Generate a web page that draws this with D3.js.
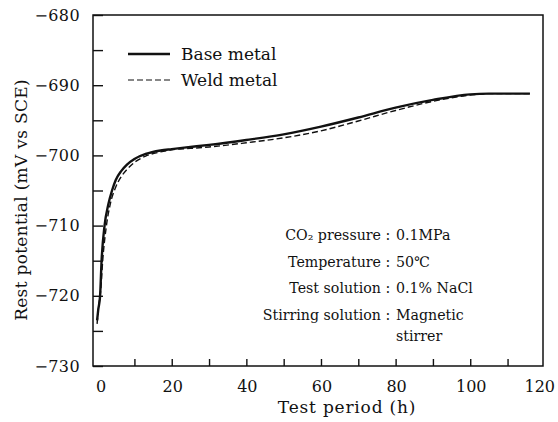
<!DOCTYPE html>
<html><head><meta charset="utf-8">
<script src="https://cdn.jsdelivr.net/npm/d3@7"></script>
<style>body{margin:0;background:#fff}svg{display:block}</style>
</head><body>
<script>
const baseT = [0, 0.3, 0.8, 1.2, 2, 3, 4, 5, 6.5, 8, 10, 13, 17, 20, 25, 30, 40, 50, 60, 70, 80, 90, 100, 105, 110, 116];
const baseV = [-723.5, -722, -720, -715, -710, -707, -705, -703.5, -702.2, -701.3, -700.5, -699.8, -699.3, -699.1, -698.8, -698.5, -697.8, -697, -695.9, -694.6, -693.2, -692.1, -691.3, -691.2, -691.2, -691.2];
const weldT = [0, 0.3, 1, 1.5, 2.5, 3.5, 5, 6.5, 8, 10, 13, 17, 20, 25, 30, 40, 50, 60, 70, 80, 90, 100, 105, 110, 116];
const weldV = [-724, -722, -719, -715, -710, -707, -704.5, -703, -702, -701, -700.1, -699.5, -699.2, -699, -698.8, -698.2, -697.5, -696.5, -695.1, -693.6, -692.3, -691.4, -691.2, -691.2, -691.2];
const xTicks = [0, 20, 40, 60, 80, 100, 120];
const xMinor = [10, 30, 50, 70, 90, 110];
const yTicks = [-680, -690, -700, -710, -720, -730];
const yMinor = [-685, -695, -705, -715, -725];
const legendLabels = ["Base metal", "Weld metal"];
const condLabels = ["CO\u2082 pressure", "Temperature", "Test solution", "Stirring solution"];
const condValues = ["0.1MPa", "50\u2103", "0.1% NaCl", "Magnetic"];

const FONT = "DejaVu Serif";
const W = 558, H = 422;
const L = 93, T = 15, R = 543, B = 366;
const svg = d3.select("body").append("svg").attr("width", W).attr("height", H)
  .attr("font-family", FONT).attr("fill", "#111");
const x = d3.scaleLinear().domain([-1.1, 119.5]).range([L, R]);
const y = d3.scaleLinear().domain([-730, -680]).range([B, T]);

// frame
svg.append("rect").attr("x", L).attr("y", T).attr("width", R - L).attr("height", B - T)
  .attr("fill", "none").attr("stroke", "#111").attr("stroke-width", 1.5);

// y ticks (inward)
const yAx = d3.axisRight(y).tickValues(yTicks.concat(yMinor)).tickSize(10).tickFormat("");
const gy = svg.append("g").attr("transform", `translate(${L},0)`).call(yAx);
gy.select(".domain").remove();
gy.selectAll("line").attr("stroke", "#111").attr("stroke-width", 1.4);
svg.append("g").selectAll("text").data(yTicks).join("text")
  .attr("x", 80).attr("y", d => y(d)).attr("dy", "0.35em").attr("text-anchor", "end")
  .attr("font-family", FONT).attr("font-size", 16).attr("letter-spacing", 0.4)
  .text(d => "\u2212" + Math.abs(d));

// x ticks (inward)
const xAx = d3.axisTop(x).tickValues(xTicks.slice(1, 6).concat(xMinor)).tickSize(7).tickFormat("");
const gx = svg.append("g").attr("transform", `translate(0,${B})`).call(xAx);
gx.select(".domain").remove();
gx.selectAll("line").attr("stroke", "#111").attr("stroke-width", 1.4);
svg.append("g").selectAll("text").data(xTicks).join("text")
  .attr("x", d => d === 120 ? 555 : x(d) + (d === 0 ? 4 : 1)).attr("y", 392)
  .attr("text-anchor", d => d === 120 ? "end" : "middle")
  .attr("font-family", FONT).attr("font-size", 16)
  .text(d => d);

// axis titles
svg.append("text").attr("x", 347).attr("y", 413).attr("text-anchor", "middle")
  .attr("font-family", FONT).attr("font-size", 17).attr("letter-spacing", 0.8).text("Test period (h)");
svg.append("text").attr("transform", "translate(27,200) rotate(-90)").attr("text-anchor", "middle")
  .attr("font-family", FONT).attr("font-size", 17).attr("letter-spacing", 0.3).text("Rest potential (mV vs SCE)");

// lines
const line = d3.line().x(d => x(d[0])).y(d => y(d[1])).curve(d3.curveMonotoneX);
const weld = weldT.map((t, i) => [t, weldV[i]]);
const base = baseT.map((t, i) => [t, baseV[i]]);
svg.append("path").attr("d", line(weld)).attr("fill", "none").attr("stroke", "#111")
  .attr("stroke-width", 1.4).attr("stroke-dasharray", "6,3");
svg.append("path").attr("d", line(base)).attr("fill", "none").attr("stroke", "#111")
  .attr("stroke-width", 2.4);

// legend
const lg = svg.append("g");
lg.append("line").attr("x1", 128).attr("x2", 170).attr("y1", 54).attr("y2", 54).attr("stroke", "#111").attr("stroke-width", 2.6);
lg.append("line").attr("x1", 128).attr("x2", 170).attr("y1", 80).attr("y2", 80).attr("stroke", "#111").attr("stroke-width", 1.2).attr("stroke-dasharray", "6,3");
lg.selectAll("text").data(legendLabels).join("text")
  .attr("x", 181).attr("y", (d, i) => 60 + i * 26)
  .attr("font-family", FONT).attr("font-size", 17).text(d => d);

// conditions
const cg = svg.append("g").attr("font-family", FONT).attr("font-size", 14.2);
cg.selectAll("text.k").data(condLabels).join("text").attr("class", "k")
  .attr("x", 381).attr("y", (d, i) => 240 + i * 26.5).attr("text-anchor", "end")
  .text(d => d);
cg.selectAll("text.c").data(condLabels).join("text").attr("class", "c")
  .attr("x", 388).attr("y", (d, i) => 240 + i * 26.5).attr("text-anchor", "middle")
  .text(":");
cg.selectAll("text.v").data(condValues).join("text").attr("class", "v")
  .attr("x", 396).attr("y", (d, i) => 240 + i * 26.5)
  .text(d => d);
cg.append("text").attr("x", 396).attr("y", 341).text("stirrer");
</script>
</body></html>
